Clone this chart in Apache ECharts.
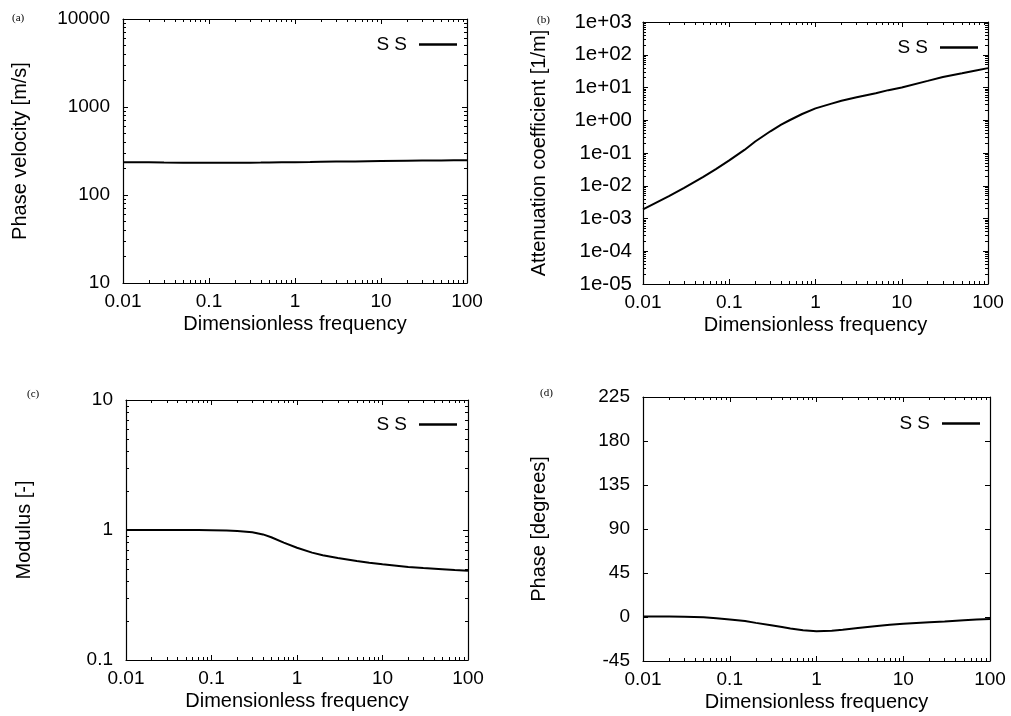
<!DOCTYPE html>
<html>
<head>
<meta charset="utf-8">
<script src="https://cdn.jsdelivr.net/npm/echarts@6/dist/echarts.min.js"></script>
<style>
html, body { margin: 0; padding: 0; background: #fff; }
#chart { width: 1011px; height: 716px; }
</style>
</head>
<body>
<div id="chart"></div>
<script>
// dimensionless frequency, shared by all four panels
var freq = [0.01, 0.02, 0.03, 0.05, 0.07, 0.1, 0.15, 0.2, 0.3, 0.4, 0.5, 0.7,
            1, 1.5, 2, 3, 5, 7, 10, 20, 30, 50, 70, 100];
// (a) phase velocity [m/s]
var velocity = [236, 235, 234, 233, 232.5, 232, 232, 232.5, 233, 233.5, 234, 235,
                236, 237, 238, 239.5, 241, 242, 243, 245, 246, 247, 247.5, 248];
// (b) attenuation coefficient [1/m]
var attenuation = [0.0019, 0.0048, 0.0086, 0.0186, 0.0323, 0.0595, 0.124, 0.224, 0.46, 0.73, 1.0, 1.55,
                   2.31, 3.17, 3.95, 5.02, 6.71, 8.3, 10.0, 15.9, 21, 27.2, 32.4, 39];
// (c) modulus [-]
var modulus = [1.0, 1.0, 1.0, 1.0, 0.998, 0.995, 0.99, 0.982, 0.96, 0.925, 0.88, 0.8,
               0.73, 0.67, 0.64, 0.61, 0.578, 0.56, 0.545, 0.52, 0.51, 0.5, 0.492, 0.485];
// (d) phase [degrees]
var phase = [0.5, 0.4, 0.2, -0.3, -1.2, -2.5, -4.2, -6, -8.5, -10.3, -11.8, -13.5,
             -14.5, -14, -13, -11.3, -9.2, -8, -7, -5.3, -4.5, -3.3, -2.6, -2];

var freqTicks = [0.01, 0.1, 1, 10, 100];
var velocityTicks = [10, 100, 1000, 10000];
var attenuationTicks = [1e-5, 1e-4, 1e-3, 1e-2, 1e-1, 1, 10, 100, 1000];
var modulusTicks = [0.1, 1, 10];

var FONT = 'Liberation Sans';

// 2..9 times each decade between the major ticks
function minorOf(major) {
    var out = [];
    for (var i = 0; i < major.length - 1; i++) {
        for (var k = 2; k < 10; k++) out.push(+(major[i] * k).toPrecision(6));
    }
    return out;
}

function numLabel(v) {
    return String(+Number(v).toPrecision(6));
}

function expLabel(v) {
    var e = Math.round(Math.log(v) / Math.LN10);
    var a = Math.abs(e);
    return '1e' + (e < 0 ? '-' : '+') + (a < 10 ? '0' : '') + a;
}

// main axis (labels + major ticks), minor ticks, and the mirrored pair on the other side
function makeAxes(gi, dim, cfg) {
    var pos = dim === 'x' ? ['bottom', 'top'] : ['left', 'right'];
    var list = [];
    var base = {
        gridIndex: gi,
        type: cfg.type,
        min: cfg.min,
        max: cfg.max,
        splitLine: { show: false },
        axisPointer: { show: false }
    };
    if (cfg.type === 'value') base.interval = cfg.interval;
    [0, 1].forEach(function (side) {
        var major = Object.assign({}, base, {
            position: pos[side],
            axisLine: { show: true, onZero: false, lineStyle: { color: '#000', width: 1.2 } },
            axisTick: { show: true, inside: true, length: 5, lineStyle: { color: '#000', width: 1 } },
            axisLabel: {
                show: side === 0,
                color: '#000',
                fontFamily: FONT,
                fontSize: cfg.fontSize || 19,
                margin: cfg.margin,
                formatter: cfg.formatter
            }
        });
        if (cfg.type === 'log') {
            major.axisTick.customValues = cfg.ticks;
            major.axisLabel.customValues = cfg.ticks;
        }
        if (side === 0 && cfg.name) {
            major.name = cfg.name;
            major.nameLocation = 'middle';
            major.nameGap = cfg.nameGap;
            major.nameRotate = dim === 'y' ? 90 : 0;
            major.nameTextStyle = { color: '#000', fontFamily: FONT, fontSize: 20 };
        }
        list.push(major);
        if (cfg.type === 'log') {
            list.push(Object.assign({}, base, {
                position: pos[side],
                axisLine: { show: false, onZero: false },
                axisTick: { show: true, inside: true, length: 3, customValues: minorOf(cfg.ticks),
                            lineStyle: { color: '#000', width: 1 } },
                axisLabel: { show: false }
            }));
        }
    });
    return list;
}

var panels = [
    {
        grid: { left: 123, top: 19, width: 344, height: 264 },
        y: { type: 'log', min: 10, max: 10000, ticks: velocityTicks, formatter: numLabel,
             name: 'Phase velocity [m/s]', nameGap: 93, margin: 13 },
        data: velocity, legend: { right: 554, top: 35 }, tag: '(a)', tagPos: [12, 13]
    },
    {
        grid: { left: 643, top: 22, width: 345, height: 262 },
        y: { type: 'log', min: 1e-5, max: 1e3, ticks: attenuationTicks, formatter: expLabel,
             name: 'Attenuation coefficient [1/m]', nameGap: 94, margin: 11, fontSize: 20.5 },
        data: attenuation, legend: { right: 33, top: 38 }, tag: '(b)', tagPos: [537, 15]
    },
    {
        grid: { left: 126, top: 400, width: 342, height: 260 },
        y: { type: 'log', min: 0.1, max: 10, ticks: modulusTicks, formatter: numLabel,
             name: 'Modulus [-]', nameGap: 92, margin: 13 },
        data: modulus, legend: { right: 554, top: 415 }, tag: '(c)', tagPos: [27, 389]
    },
    {
        grid: { left: 643, top: 397, width: 347, height: 264 },
        y: { type: 'value', min: -45, max: 225, interval: 45, formatter: numLabel,
             name: 'Phase [degrees]', nameGap: 94, margin: 13 },
        data: phase, legend: { right: 31, top: 414 }, tag: '(d)', tagPos: [540, 388]
    }
];

var option = {
    backgroundColor: '#fff',
    animation: false,
    grid: [],
    xAxis: [],
    yAxis: [],
    legend: [],
    series: [],
    graphic: []
};

panels.forEach(function (p, gi) {
    option.grid.push(Object.assign({ show: false }, p.grid));
    var xs = makeAxes(gi, 'x', { type: 'log', min: 0.01, max: 100, ticks: freqTicks, formatter: numLabel,
                                 name: 'Dimensionless frequency', nameGap: 31, margin: 9 });
    var ys = makeAxes(gi, 'y', p.y);
    var xi = option.xAxis.length, yi = option.yAxis.length;
    option.xAxis = option.xAxis.concat(xs);
    option.yAxis = option.yAxis.concat(ys);
    option.series.push({
        name: 'S S',
        type: 'line',
        xAxisIndex: xi,
        yAxisIndex: yi,
        symbol: 'none',
        smooth: false,
        lineStyle: { color: '#000', width: 2 },
        itemStyle: { color: '#000' },
        data: freq.map(function (f, i) { return [f, p.data[i]]; })
    });
    option.legend.push({
        data: ['S S'],
        right: p.legend.right,
        top: p.legend.top,
        padding: 0,
        align: 'right',
        icon: 'rect',
        itemWidth: 38,
        itemHeight: 2.5,
        selectedMode: false,
        itemStyle: { color: '#000' },
        textStyle: { color: '#000', fontFamily: FONT, fontSize: 19, padding: [0, 7, 0, 0] }
    });
    option.graphic.push({
        type: 'text',
        left: p.tagPos[0],
        top: p.tagPos[1],
        style: { text: p.tag, fill: '#000', font: '11px "Liberation Serif"' }
    });
});

var myChart = echarts.init(document.getElementById('chart'), null, { renderer: 'canvas' });
myChart.setOption(option);
</script>
</body>
</html>
